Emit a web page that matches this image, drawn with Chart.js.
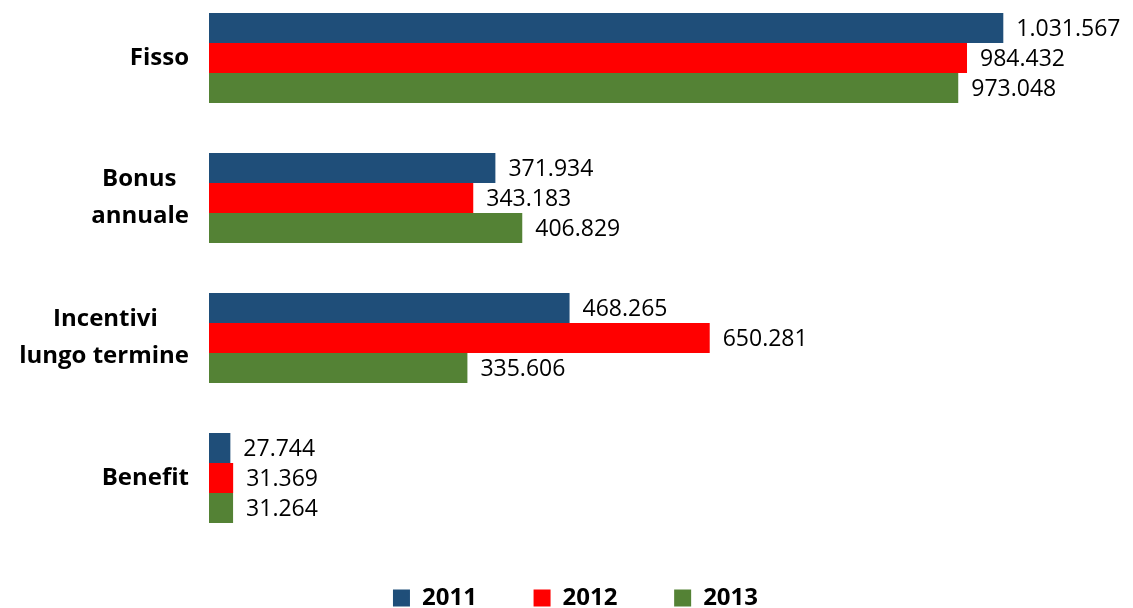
<!DOCTYPE html>
<html>
<head>
<meta charset="utf-8">
<script src="https://cdn.jsdelivr.net/npm/chart.js@4.4.0/dist/chart.umd.min.js"></script>
<style>
  html, body { margin: 0; padding: 0; background: #fff; overflow: hidden; }
  #wrap { position: absolute; left: 0; top: -12px; width: 1133px; height: 632px; }
</style>
</head>
<body>
<div id="wrap"><canvas id="myChart"></canvas></div>
<script>
// categories (trailing spaces nudge the first line like the original)
const categories = [
  "Fisso",
  ["Bonus  ", "annuale"],
  ["Incentivi     ", "lungo termine"],
  "Benefit",
];
const years = ["2011", "2012", "2013"];
const values2011 = [1031567, 371934, 468265, 27744];
const values2012 = [984432, 343183, 650281, 31369];
const values2013 = [973048, 406829, 335606, 31264];
const colors = ["#1F4E79", "#FF0000", "#548235"];

const fmt = (v) => String(v).replace(/\B(?=(\d{3})+(?!\d))/g, ".");

const valueLabels = {
  id: "valueLabels",
  afterDatasetsDraw(chart) {
    const ctx = chart.ctx;
    ctx.save();
    ctx.font = "23px 'Open Sans'";
    ctx.fillStyle = "#000";
    ctx.textAlign = "left";
    ctx.textBaseline = "middle";
    chart.data.datasets.forEach((ds, i) => {
      chart.getDatasetMeta(i).data.forEach((bar, j) => {
        ctx.fillText(fmt(ds.data[j]), bar.x + 13, bar.y + 1);
      });
    });
    ctx.restore();
  },
};

const ctx = document.getElementById("myChart").getContext("2d");
new Chart(ctx, {
  type: "bar",
  data: {
    labels: categories,
    datasets: [values2011, values2012, values2013].map((d, i) => ({
      label: years[i],
      data: d,
      backgroundColor: colors[i],
      borderWidth: 0,
      categoryPercentage: 0.643,
      barPercentage: 1,
    })),
  },
  options: {
    indexAxis: "y",
    responsive: true,
    maintainAspectRatio: false,
    animation: false,
    layout: { padding: { left: 18, right: 0, top: 0, bottom: 0 } },
    scales: {
      x: { display: false, min: 0, max: 1200000 },
      y: {
        afterFit: (scale) => {
          scale.width = 191;
          scale.paddingTop = 0;
          scale.paddingBottom = 0;
        },
        grid: { display: false, drawTicks: false },
        border: { display: false },
        ticks: {
          padding: 20,
          color: "#000",
          font: { family: "'Open Sans'", size: 24, weight: "bold", lineHeight: 1.55 },
        },
      },
    },
    plugins: {
      tooltip: { enabled: false },
      legend: {
        position: "bottom",
        labels: {
          boxWidth: 17,
          boxHeight: 17,
          padding: 38,
          color: "#000",
          font: { family: "'Open Sans'", size: 24, weight: "bold" },
          generateLabels: (chart) =>
            Chart.defaults.plugins.legend.labels.generateLabels(chart).map((l, i, all) => {
              if (i < all.length - 1) l.text = l.text + "   ";
              l.lineWidth = 0;
              return l;
            }),
        },
      },
    },
  },
  plugins: [valueLabels],
});
</script>
</body>
</html>
